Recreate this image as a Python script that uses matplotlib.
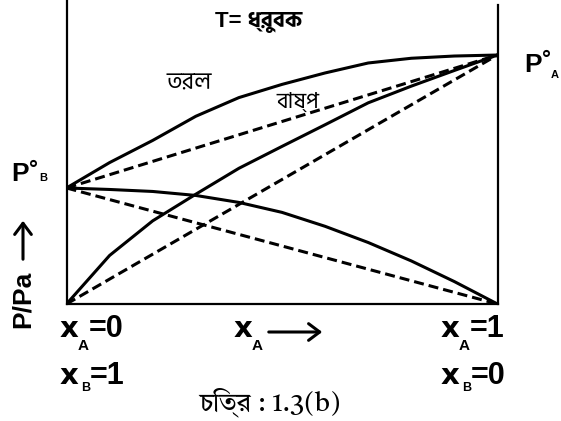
import matplotlib
matplotlib.use("Agg")
import matplotlib.pyplot as plt

plt.rcParams['lines.scale_dashes'] = False

# mole fraction of A
x_A = [0.0, 0.1, 0.2, 0.3, 0.4, 0.5, 0.6, 0.7, 0.8, 0.9, 1.0]
# real solution (positive deviation), P in units of P°A = 100
p_total = [46.6, 56.8, 65.7, 75.4, 82.9, 88.2, 92.8, 96.8, 98.7, 99.6, 100.0]
p_A = [0.0, 19.5, 33.4, 44.1, 54.5, 63.3, 72.0, 80.8, 87.5, 93.8, 100.0]
p_B = [46.6, 46.0, 45.2, 43.6, 40.8, 36.8, 31.2, 24.7, 17.3, 9.0, 0.0]
# ideal (Raoult) lines
x_ends = [0.0, 1.0]
pA_ideal = [0.0, 100.0]
pB_ideal = [46.6, 0.0]
p_ideal = [46.6, 100.0]

W, H = 561, 421
bold = ['Liberation Sans', 'DejaVu Sans']
wide = ['DejaVu Sans']
bangla = ['Hind Siliguri', 'Liberation Sans']

fig = plt.figure(figsize=(W / 100, H / 100), dpi=100)
ax = fig.add_axes([66.5 / W, 117 / H, 431 / W, 304 / H])
ax.set_xlim(0, 1)
ax.set_ylim(0, 122.1)

lw = 2.2
for p in (p_total, p_A, p_B):
    ax.plot(x_A, p, color='black', lw=lw, solid_joinstyle='round',
            solid_capstyle='round')
for p in (p_ideal, pA_ideal, pB_ideal):
    ax.plot(x_ends, p, color='black', lw=lw, dashes=(7.2, 3.6),
            dash_capstyle='butt')

ax.spines['top'].set_visible(False)
for s in ('left', 'right', 'bottom'):
    ax.spines[s].set_linewidth(1.6)
ax.spines['right'].set_bounds(0, 120)
ax.set_xticks([])
ax.set_yticks([])


def put(s, x, y, size, family=bold, weight='bold', **kw):
    # x, y in pixels from the top-left corner, y at the baseline
    fig.text(x / W, 1 - y / H, s, fontsize=size, family=family,
             weight=weight, va='baseline', ha='left', **kw)


def arrow(x0, y0, x1, y1):
    fig.add_artist(matplotlib.patches.FancyArrowPatch(
        (x0 / W, 1 - y0 / H), (x1 / W, 1 - y1 / H),
        transform=fig.transFigure, color='black', lw=2.2,
        arrowstyle='->, head_length=0.4, head_width=0.3',
        mutation_scale=20))


put('T= ধ্রুবক', 215, 27, 16, family=['Liberation Sans', 'Hind Siliguri'])
put('তরল', 166, 89, 17, family=bangla, weight='normal')
put('বাষ্প', 276, 109, 16, family=bangla, weight='normal')

# P°A and P°B at the ends of the curves
put('P', 524, 72, 19)
put('°', 542, 66, 16)
put('A', 551, 78, 8)
put('P', 11, 181, 19)
put('°', 29, 176, 16)
put('B', 39, 181, 8)

# mole fraction labels under the axis
put('x', 60, 337, 21, family=wide)
put('A', 78, 350, 11)
put('=0', 89, 337, 22)
put('x', 60, 384, 21, family=wide)
put('B', 81, 391, 9)
put('=1', 90, 384, 22)
put('x', 441, 337, 21, family=wide)
put('A', 459, 350, 11)
put('=1', 470, 337, 22)
put('x', 441, 384, 21, family=wide)
put('B', 462, 391, 9)
put('=0', 471, 384, 22)
put('x', 234, 337, 21, family=wide)
put('A', 252, 350, 11)
arrow(266, 332, 325, 332)

# rotated pressure label with its arrow
fig.text(23 / W, 1 - 299 / H, 'P/Pa', fontsize=19, family=bold, weight='bold',
         rotation=90, ha='center', va='center')
arrow(23, 262, 23, 218)

put('চিত্র : 1.3(b)', 199, 410, 19, family=['Tiro Bangla', 'Liberation Serif'],
    weight='normal')

fig.savefig('out.png', dpi=100)
